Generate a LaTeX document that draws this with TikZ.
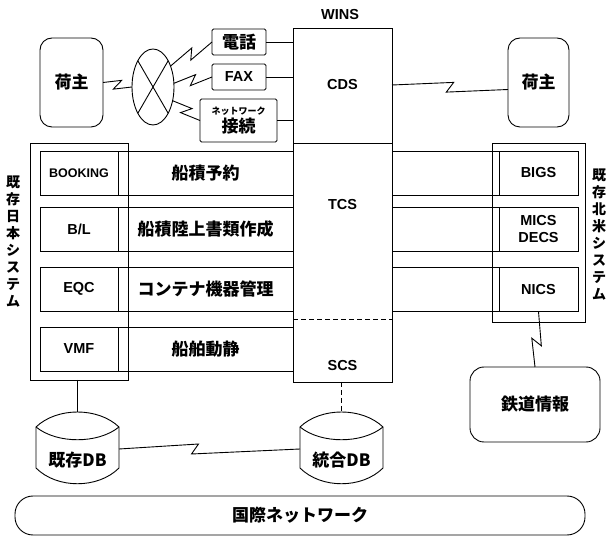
\documentclass[tikz,border=0pt]{standalone}
\usepackage{fontspec}
\setmainfont{Liberation Sans}
\newfontfamily\jpfont{Noto Sans CJK JP}
\usetikzlibrary{calc,shapes.geometric,positioning}

\newcommand{\dbdrum}[1]{%
  \coordinate (#1-nw) at ($(#1.west)+(0,-33)$);
  \coordinate (#1-ne) at ($(#1.east)+(0,-33)$);
  \coordinate (#1-sw) at ($(#1.west)+(0,8)$);
  \coordinate (#1-se) at ($(#1.east)+(0,8)$);
  \coordinate (#1-top) at ($(#1.center)+(0,-48)$);
  \coordinate (#1-wside) at ($(#1.west)+(0,-11)$);
  \coordinate (#1-eside) at ($(#1.east)+(0,-11)$);
  \draw (#1-nw) .. controls ($(#1-nw)+(21,-20)$) and ($(#1-ne)+(-21,-20)$) .. (#1-ne)
    -- (#1-se) .. controls ($(#1-se)+(-21,21)$) and ($(#1-sw)+(21,21)$) .. (#1-sw) -- cycle;
  \draw (#1-nw) .. controls ($(#1-nw)+(21,17)$) and ($(#1-ne)+(-21,17)$) .. (#1-ne);}

\begin{document}
\begin{tikzpicture}[x=1pt,y=-1pt,line width=0.9pt,
    every node/.style={inner sep=0pt,outer sep=0pt}]
  \tikzset{lat/.style={font=\fontsize{14.5}{17}\selectfont\bfseries},
    jp/.style={font=\fontsize{17}{20}\selectfont\jpfont\bfseries},
    vlabel/.style={align=center,font=\fontsize{14}{17}\selectfont\jpfont\bfseries},
    sysbox/.style={draw,minimum height=44pt},
    softbox/.style={draw,rounded corners=12pt},
    smallbox/.style={draw,rounded corners=1.5pt,minimum width=54pt,minimum height=26pt},
    bolt/.style={to path={-- ($(\tikztostart)!#1!(\tikztotarget)!3.5pt!(\tikztotarget)!5pt!90:(\tikztotarget)$)
        -- ($(\tikztostart)!#1!(\tikztotarget)!-3.5pt!(\tikztotarget)!5pt!-90:(\tikztotarget)$) -- (\tikztotarget)}},
    bolt/.default=0.5}
  \useasboundingbox (0,0) rectangle (611,537);

  \node[draw,minimum width=99pt,minimum height=354pt] (wins) at (342.5,205) {};
  \node[lat] (winsname) at (340,15) {WINS};
  \node[lat] (cds) at (342.5,85) {CDS};
  \node[lat] (tcs) at (342.5,205) {TCS};
  \node[lat] (scs) at (342.5,366) {SCS};
  \draw (wins.west |- 0,143) -- (wins.east |- 0,143);
  \draw[dash pattern=on 5pt off 3pt] (wins.west |- 0,319) -- (wins.east |- 0,319);

  \node[draw,minimum width=98pt,minimum height=237pt] (jpsys) at (79,261.5) {};
  \node[sysbox,minimum width=78pt,font=\fontsize{12.5}{15}\selectfont\bfseries] (booking) at (79,173) {BOOKING};
  \node[sysbox,minimum width=175pt,jp] (yoyaku) at (205.5,173) {船積予約};
  \node[sysbox,minimum width=78pt,lat] (bl) at (79,229) {B/L};
  \node[sysbox,minimum width=175pt,jp] (shorui) at (205.5,229) {船積陸上書類作成};
  \node[sysbox,minimum width=78pt,lat] (eqc) at (79,289) {EQC};
  \node[sysbox,minimum width=175pt,jp] (kiki) at (205.5,289) {コンテナ機器管理};
  \node[sysbox,minimum width=78pt,lat] (vmf) at (79,349) {VMF};
  \node[sysbox,minimum width=175pt,jp] (dousei) at (205.5,349) {船舶動静};
  \node[vlabel] (jplabel) at (13,241.5) {既\\存\\日\\本\\シ\\ス\\テ\\ム};

  \node[draw,minimum width=93pt,minimum height=179pt] (nasys) at (538.5,232.5) {};
  \node[sysbox,minimum width=107pt] (bigsrow) at (445.5,173) {};
  \node[sysbox,minimum width=79pt,lat] (bigs) at (538.5,173) {BIGS};
  \node[sysbox,minimum width=107pt] (micsrow) at (445.5,229) {};
  \node[sysbox,minimum width=79pt,lat,align=center] (mics) at (538.5,229) {MICS\\DECS};
  \node[sysbox,minimum width=107pt] (nicsrow) at (445.5,289.5) {};
  \node[sysbox,minimum width=79pt,lat] (nics) at (538.5,289.5) {NICS};
  \node[vlabel] (nalabel) at (599,235) {既\\存\\北\\米\\シ\\ス\\テ\\ム};

  \node[softbox,jp,minimum width=63pt,minimum height=89pt] (shipL) at (71.5,82.5) {荷主};
  \node[draw,ellipse,minimum width=42pt,minimum height=76pt] (xchg) at (153,87) {};
  \draw (xchg.60) -- (xchg.240) (xchg.120) -- (xchg.300);
  \node[smallbox,jp] (tel) at (239,42) {電話};
  \node[smallbox,lat] (fax) at (239,77) {FAX};
  \node[draw,rounded corners=1.5pt,minimum width=77pt,minimum height=43pt,align=center] (net) at (238.5,120.5)
    {{\fontsize{9}{10}\selectfont\jpfont\bfseries ネットワーク}\\[2pt]{\fontsize{17}{19}\selectfont\jpfont\bfseries 接続}};
  \node[softbox,jp,minimum width=61pt,minimum height=89pt] (shipR) at (538.5,82.5) {荷主};

  \draw (shipL.east) to[bolt] (xchg.west);
  \draw (xchg.50) to[bolt] (tel.west);
  \draw (xchg.10) to[bolt] (fax.west);
  \draw (xchg.-35) to[bolt] (net.west);
  \draw (tel) -- (tel -| wins.west);
  \draw (fax) -- (fax -| wins.west);
  \draw (net) -- (net -| wins.west);
  \draw (cds -| wins.east) to[bolt] ($(shipR.west)+(0,7)$);

  \node[jp,minimum width=83pt] (kdb) at (77.5,460) {既存DB};
  \dbdrum{kdb}
  \node[jp,minimum width=83pt] (tdb) at (341.5,460) {統合DB};
  \dbdrum{tdb}
  \draw (jpsys.south -| kdb-top) -- (kdb-top);
  \draw[dash pattern=on 5pt off 3pt] (wins.south -| tdb-top) -- (tdb-top);
  \draw (kdb-eside) to[bolt=0.42] (tdb-wside);

  \node[softbox,rounded corners=14pt,jp,minimum width=130pt,minimum height=75pt] (rail) at (535,404.5) {鉄道情報};
  \draw (nics.south) to[bolt=0.55] (rail.north);

  \node[draw,rounded corners=18pt,jp,minimum width=570pt,minimum height=39pt] (intl) at (300,515.5) {国際ネットワーク};
\end{tikzpicture}
\end{document}
